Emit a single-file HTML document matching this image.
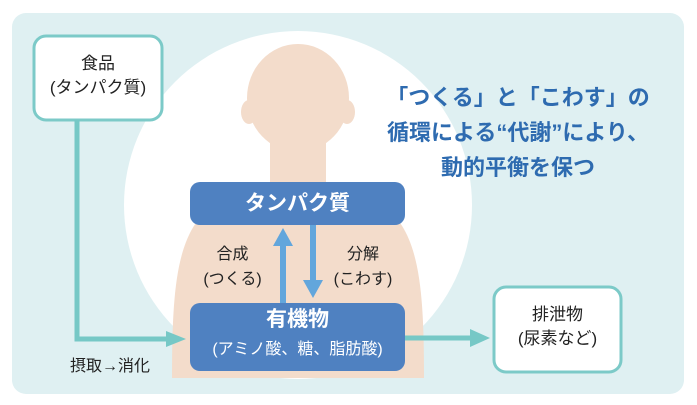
<!DOCTYPE html>
<html><head><meta charset="utf-8"><style>
body{margin:0;width:697px;height:405px;background:#fff;overflow:hidden;font-family:"Liberation Sans","Noto Sans CJK JP",sans-serif}
.a{position:absolute}
.t{position:absolute;text-align:center;white-space:nowrap}
</style></head><body>
<div class="a" style="left:12px;top:13px;width:672px;height:381px;background:#dff0f2;border-radius:14px"></div>
<svg class="a" style="left:0;top:0" width="697" height="405">
<circle cx="298" cy="205" r="174" fill="#fff"/>
<g fill="#f3dccb">
<ellipse cx="298" cy="98" rx="51" ry="54"/>
<ellipse cx="249" cy="112" rx="8" ry="12"/>
<ellipse cx="347" cy="112" rx="8" ry="12"/>
<rect x="270" y="130" width="56" height="70"/>
<path d="M172 378 C172 260 180 205 250 190 L346 190 C416 205 424 260 424 378 Z"/>
</g>
<rect x="34" y="36" width="128" height="84" rx="12" fill="#fff" stroke="#7ccac8" stroke-width="3"/>
<rect x="494" y="287" width="127" height="85" rx="12" fill="#fff" stroke="#7ccac8" stroke-width="3"/>
<polyline points="77,120 77,339 168,339" fill="none" stroke="#76c8c6" stroke-width="5"/>
<polygon points="166,331 186,339 166,347" fill="#76c8c6"/>
<line x1="400" y1="338" x2="472" y2="338" stroke="#76c8c6" stroke-width="5"/>
<polygon points="470,329 490,338 470,347" fill="#76c8c6"/>
<rect x="190" y="182" width="215" height="43" rx="10" fill="#4f81c1"/>
<rect x="190" y="303" width="215" height="68" rx="10" fill="#4f81c1"/>
<line x1="283" y1="303" x2="283" y2="240" stroke="#62a6dc" stroke-width="6"/>
<polygon points="273,246 283,228 293,246" fill="#62a6dc"/>
<line x1="313" y1="225" x2="313" y2="285" stroke="#62a6dc" stroke-width="6"/>
<polygon points="303,280 313,298 323,280" fill="#62a6dc"/>
</svg>
<div class="t" style="left:34px;top:52px;width:128px;font-size:17px;line-height:24px;color:#222">食品<br>(タンパク質)</div>
<div class="t" style="left:494px;top:303px;width:127px;font-size:17px;line-height:24px;color:#222">排泄物<br>(尿素など)</div>
<div class="t" style="left:190px;top:187px;width:215px;font-size:21px;font-weight:bold;color:#fff">タンパク質</div>
<div class="t" style="left:190px;top:306px;width:215px;font-size:21px;font-weight:bold;color:#fff;line-height:28px">有機物<br><span style="font-size:16px;font-weight:normal">(アミノ酸、糖、脂肪酸)</span></div>
<div class="t" style="left:200px;top:242px;width:65px;font-size:16px;line-height:25px;color:#222">合成<br>(つくる)</div>
<div class="t" style="left:328px;top:242px;width:70px;font-size:16px;line-height:25px;color:#222">分解<br>(こわす)</div>
<div class="t" style="left:70px;top:352px;font-size:16px;color:#222">摂取→消化</div>
<div class="t" style="left:360px;top:80px;width:316px;font-size:22px;font-weight:bold;line-height:35px;color:#2e6bb0">「つくる」と「こわす」の<br>循環による“代謝”により、<br>動的平衡を保つ</div>
</body></html>
